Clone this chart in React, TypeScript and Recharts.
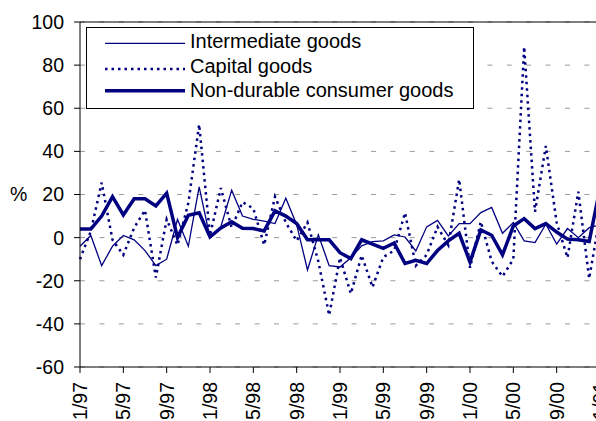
import { LineChart, Line, XAxis, YAxis, CartesianGrid, ReferenceLine } from "recharts"

const months = [
  "1/97", "2/97", "3/97", "4/97", "5/97", "6/97", "7/97", "8/97", "9/97", "10/97", "11/97", "12/97",
  "1/98", "2/98", "3/98", "4/98", "5/98", "6/98", "7/98", "8/98", "9/98", "10/98", "11/98", "12/98",
  "1/99", "2/99", "3/99", "4/99", "5/99", "6/99", "7/99", "8/99", "9/99", "10/99", "11/99", "12/99",
  "1/00", "2/00", "3/00", "4/00", "5/00", "6/00", "7/00", "8/00", "9/00", "10/00", "11/00", "12/00",
  "1/01",
]

const intermediate = [
  -4, 1, -13, -4, 1, -1, -6, -13, -10, 8.5, -4, 23.5,
  0, 5, 22, 10, 8.5, 7.7, 6.5, 18.3, 6, -15, 1.3, -13,
  -13.6, -9.3, -3.8, -1.9, -1.5, 1.3, 0.3, -6.2, 5, 8, 0.8, 6.5,
  6.5, 11.6, 14, 2, 7, -1.5, -2.3, 6.2, -3, 4.2, 0, 4.6,
  6,
]

const capital = [
  -10, 3, 25.5, -1, -8, 4.6, 12.7, -18.5, 8.5, -3.5, 16, 52.5,
  1, 23, 4.6, 16.5, 13.5, -3.4, 19, 7, -1.5, 7, -11, -36,
  -9.3, -26, -8.2, -23, -9, -6, 11.5, -13, -8, 5, -3.5, 27,
  -14, 7.4, -11, -18, -10, 88.5, 12, 42.5, 7, -9.3, 21.3, -19,
  10,
]

const nonDurable = [
  4, 4, 10, 19, 10.5, 18, 18, 14.7, 20.6, 0, 10.4, 11.5,
  0.3, 4.5, 7.4, 4.3, 4.2, 3.1, 12.4, 10, 6.5, -1, -1, -1,
  -7, -9.7, -1, -3, -5, -2.5, -12, -10.5, -12, -6, -1.5, 2,
  -11.3, 3.6, 1.1, -8, 5.4, 8.8, 4.2, 6.5, 2.6, -0.7, -1, -1.8,
  23,
]

const yTicks = [-60, -40, -20, 0, 20, 40, 60, 80, 100]

const navy = "#000080"
const font = "Arial, 'Liberation Sans', sans-serif"
const dotted = "2.5 4"

const series = [
  { key: "intermediate", name: "Intermediate goods", width: 1.3, dash: undefined },
  { key: "capital", name: "Capital goods", width: 2.5, dash: dotted },
  { key: "nonDurable", name: "Non-durable consumer goods", width: 3.5, dash: undefined },
]

const data = months.map((month, i) => ({
  month,
  intermediate: intermediate[i],
  capital: capital[i],
  nonDurable: nonDurable[i],
}))

function MonthTick({ x, y, payload }: any) {
  const ty = y + 7
  return (
    <text
      x={x}
      y={ty}
      transform={`rotate(-90 ${x} ${ty})`}
      textAnchor="end"
      dominantBaseline="central"
      fontSize={19.5}
      fontFamily={font}
      fill="#000"
    >
      {payload.value}
    </text>
  )
}

export default function App() {
  // legend rows: line y and text baseline, relative to the box
  const lineY = [16.3, 42, 63.7]
  const textY = [21, 46, 69.5]

  return (
    <div
      style={{
        position: "absolute",
        left: 0,
        top: 0,
        width: 596,
        height: 421,
        overflow: "hidden",
        background: "#fff",
        fontFamily: font,
      }}
    >
      <LineChart
        width={610}
        height={428}
        data={data}
        margin={{ top: 22, right: 10, bottom: 0, left: 0 }}
      >
        <CartesianGrid
          vertical={false}
          stroke="#9a9a9a"
          strokeDasharray="5 14.4"
        />
        <ReferenceLine y={100} stroke="#000" strokeWidth={1} />
        <XAxis
          dataKey="month"
          interval={3}
          height={61}
          tickSize={6}
          axisLine={{ stroke: "#000" }}
          tickLine={{ stroke: "#000" }}
          tick={<MonthTick />}
        />
        <YAxis
          domain={[-60, 100]}
          ticks={yTicks}
          interval={0}
          width={80}
          tickSize={6}
          tickMargin={10}
          axisLine={{ stroke: "#000" }}
          tickLine={{ stroke: "#000" }}
          tick={{ fontSize: 19.5, fill: "#000", fontFamily: font }}
          label={{
            value: "%",
            position: "insideLeft",
            offset: 10,
            fontSize: 19.5,
            fill: "#000",
            fontFamily: font,
          }}
        />
        {series.map((s) => (
          <Line
            key={s.key}
            type="linear"
            dataKey={s.key}
            stroke={navy}
            strokeWidth={s.width}
            strokeDasharray={s.dash}
            dot={false}
            activeDot={false}
            isAnimationActive={false}
          />
        ))}
      </LineChart>

      {/* Legend box */}
      <svg
        width={388}
        height={82}
        style={{ position: "absolute", left: 86, top: 27 }}
      >
        <rect x={0.5} y={0.5} width={387} height={81} fill="#fff" stroke="#000" />
        {series.map((s, i) => (
          <g key={s.key}>
            <line
              x1={19}
              x2={99}
              y1={lineY[i]}
              y2={lineY[i]}
              stroke={navy}
              strokeWidth={s.width}
              strokeDasharray={s.dash}
            />
            <text x={104} y={textY[i]} fontSize={20} fontFamily={font} fill="#000">
              {s.name}
            </text>
          </g>
        ))}
      </svg>
    </div>
  )
}
